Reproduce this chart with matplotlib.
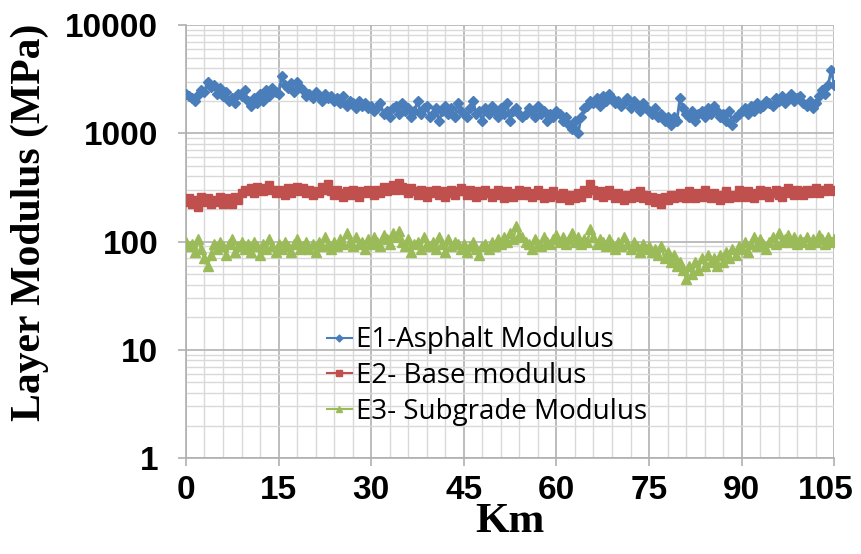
import numpy as np
import matplotlib
matplotlib.use("Agg")
import matplotlib.pyplot as plt
import matplotlib.transforms as mtransforms
from matplotlib.ticker import FixedLocator, LogLocator, NullFormatter, FixedFormatter

km = [i * 0.5 for i in range(211)]

e1_asphalt = [
    2300, 2200, 2100, 2000, 2250, 2500, 2400, 3000, 2700, 2800,
    2300, 2600, 2200, 2400, 2000, 2100, 1900, 2300, 2200, 2500,
    2000, 1800, 2100, 1900, 2300, 2000, 2500, 2200, 2600, 2400,
    2300, 3400, 2800, 2600, 2900, 2400, 3000, 2700, 2500, 2200,
    2300, 2100, 2400, 2200, 2000, 2300, 2100, 2200, 2000, 2100,
    1900, 2200, 1800, 2000, 1900, 1700, 2000, 1800, 1900, 1700,
    1800, 1600, 1700, 1900, 1500, 1600, 1400, 1700, 1800, 1500,
    1900, 1600, 1700, 1400, 1600, 2000, 1500, 1700, 1800, 1400,
    1500, 1700, 1300, 1600, 1800, 1500, 1700, 1400, 1900, 1600,
    1500, 1400, 1700, 2000, 1500, 1600, 1300, 1700, 1500, 1800,
    1600, 1400, 1700, 1500, 1900, 1300, 1600, 1700, 1500, 1400,
    1500, 1700, 1600, 1400, 1800, 1500, 1600, 1300, 1500, 1400,
    1600, 1500, 1300, 1400, 1200, 1100, 1300, 1000, 1400, 1700,
    1800, 2000, 1900, 2100, 1800, 2200, 2000, 2300, 2100, 1900,
    2000, 1800, 1900, 2100, 1700, 2000, 1800, 1600, 1900, 1700,
    1600, 1500, 1700, 1400, 1500, 1300, 1400, 1200, 1400, 1300,
    2100, 1700, 1500, 1400, 1600, 1300, 1500, 1600, 1400, 1700,
    1500, 1800, 1600, 1400, 1500, 1300, 1600, 1200, 1400, 1500,
    1600, 1700, 1500, 1800, 1600, 1900, 1700, 1800, 2000, 1900,
    1800, 2100, 2000, 2200, 1900, 2100, 2300, 2000, 2100, 2200,
    1900, 1800, 2000, 1700, 1900, 2200, 2500, 2300, 2800, 3800,
    2800,
]

e2_base = [
    230, 250, 220, 240, 210, 260, 230, 250, 220, 240,
    230, 260, 220, 250, 240, 220, 260, 240, 280, 300,
    290, 310, 280, 320, 300, 290, 310, 330, 300, 280,
    300, 290, 270, 310, 280, 300, 320, 290, 310, 280,
    300, 270, 290, 280, 320, 300, 340, 290, 270, 300,
    280, 260, 290, 270, 300, 280, 260, 290, 280, 300,
    290, 270, 300, 280, 320, 290, 310, 330, 300, 350,
    320, 300, 280, 310, 290, 270, 300, 280, 260, 290,
    280, 300, 270, 290, 260, 280, 300, 270, 290, 310,
    290, 270, 300, 280, 260, 290, 270, 300, 280, 260,
    280, 300, 270, 250, 290, 270, 260, 280, 300, 270,
    290, 270, 260, 280, 300, 270, 250, 280, 260, 290,
    270, 250, 280, 260, 240, 270, 250, 280, 260, 300,
    280, 340, 300, 270, 290, 260, 280, 300, 270, 250,
    280, 260, 240, 270, 250, 280, 260, 290, 250, 270,
    240, 260, 230, 250, 220, 260, 240, 270, 250, 260,
    280, 260, 250, 290, 270, 250, 280, 260, 300, 270,
    250, 280, 260, 240, 270, 290, 250, 270, 260, 300,
    280, 260, 290, 270, 250, 280, 300, 270, 290, 260,
    280, 300, 270, 260, 290, 310, 280, 270, 300, 290,
    270, 300, 280, 290, 310, 280, 300, 290, 310, 300,
    290,
]

e3_subgrade = [
    100, 90, 95, 80, 105, 85, 70, 60, 75, 95,
    85, 100, 90, 75, 95, 105, 80, 90, 100, 85,
    95, 80, 100, 90, 75, 95, 85, 105, 90, 80,
    95, 85, 100, 90, 80, 95, 105, 85, 90, 100,
    85, 95, 80, 100, 90, 110, 95, 85, 100, 90,
    105, 95, 120, 100, 90, 110, 95, 100, 85, 105,
    95, 110, 100, 90, 115, 105, 95, 120, 110, 125,
    100, 90, 105, 80, 95, 100, 85, 110, 95, 90,
    100, 85, 110, 95, 80, 105, 90, 100, 95, 85,
    95, 80, 90, 100, 85, 75, 90, 95, 85, 100,
    90, 105, 95, 110, 100, 120, 105, 140, 115, 110,
    100, 95, 85, 105, 95, 90, 110, 100, 95, 105,
    115, 100, 110, 95, 105, 120, 100, 110, 95, 105,
    100, 130, 110, 95, 105, 100, 90, 105, 95, 85,
    100, 90, 110, 95, 85, 100, 90, 80, 95, 85,
    90, 80, 85, 75, 90, 70, 80, 65, 75, 60,
    65, 55, 45, 60, 50, 65, 55, 70, 60, 75,
    65, 70, 60, 75, 65, 80, 70, 85, 75, 90,
    85, 100, 80, 95, 110, 90, 105, 95, 85, 100,
    110, 95, 120, 100, 105, 115, 100, 110, 95, 105,
    100, 110, 95, 105, 100, 115, 105, 95, 110, 100,
    105,
]

series_labels = ["E1-Asphalt Modulus", "E2- Base modulus", "E3- Subgrade Modulus"]
x_ticks = [0, 15, 30, 45, 60, 75, 90, 105]
y_ticks = [1, 10, 100, 1000, 10000]
y_tick_labels = ["1", "10", "100", "1000", "10000"]

fig = plt.figure(figsize=(8.61, 5.54), dpi=100)
ax = fig.add_axes([0.216, 0.173, 0.753, 0.782])

ax.plot(km, e1_asphalt, color="#4a7ebb", lw=2.0, marker="D", ms=5,
        label=series_labels[0], zorder=3)
ax.plot(km, e2_base, color="#c0504d", lw=2.0, marker="s", ms=6,
        label=series_labels[1], zorder=3)
ax.plot(km, e3_subgrade, color="#9bbb59", lw=2.0, marker="^", ms=6.5,
        label=series_labels[2], zorder=3)

ax.set_yscale("log")
ax.set_ylim(1, 10000)
ax.set_xlim(0, 105)

ax.xaxis.set_major_locator(FixedLocator(x_ticks))
ax.xaxis.set_minor_locator(FixedLocator(np.arange(0, 106, 3)))
ax.yaxis.set_major_locator(FixedLocator(y_ticks))
ax.yaxis.set_major_formatter(FixedFormatter(y_tick_labels))
ax.yaxis.set_minor_locator(LogLocator(base=10, subs=np.arange(2, 10)))
ax.yaxis.set_minor_formatter(NullFormatter())

ax.grid(True, which="major", color="#b8b8b8", lw=1.3, zorder=0)
ax.grid(True, which="minor", color="#d9d9d9", lw=1.0, zorder=0)
ax.set_axisbelow(True)

for s in ["top", "right"]:
    ax.spines[s].set_visible(False)
for s in ["left", "bottom"]:
    ax.spines[s].set_color("#b0b0b0")
    ax.spines[s].set_linewidth(1.2)

ax.tick_params(axis="both", which="major", length=6, color="#b0b0b0", width=1.2)
ax.tick_params(axis="both", which="minor", length=0)
ax.tick_params(axis="y", which="major", pad=14)
ax.tick_params(axis="x", which="major", pad=6)

for lab in ax.get_xticklabels() + ax.get_yticklabels():
    lab.set_fontfamily("Liberation Sans")
    lab.set_fontweight("bold")
    lab.set_fontsize(24)

# keep the last x tick label inside the figure
last = ax.get_xticklabels()[-1]
last.set_transform(last.get_transform() +
                   mtransforms.ScaledTranslation(-9 / 100, 0, fig.dpi_scale_trans))

ax.set_xlabel("Km", fontfamily="Liberation Serif", fontweight="bold",
              fontsize=31, labelpad=-2)
ax.set_ylabel("Layer Modulus (MPa)", fontfamily="Liberation Serif",
              fontweight="bold", fontsize=30)
ax.yaxis.set_label_coords(-0.212, 0.545)

leg = ax.legend(loc="upper left", bbox_to_anchor=(0.2, 0.33), frameon=False,
                prop={"family": "Open Sans", "size": 20}, handlelength=0.9,
                handletextpad=0.15, labelspacing=0.28, markerscale=0.7,
                borderaxespad=0)
for h in leg.get_lines():
    h.set_linewidth(1.5)

fig.savefig("out.png", dpi=100)
